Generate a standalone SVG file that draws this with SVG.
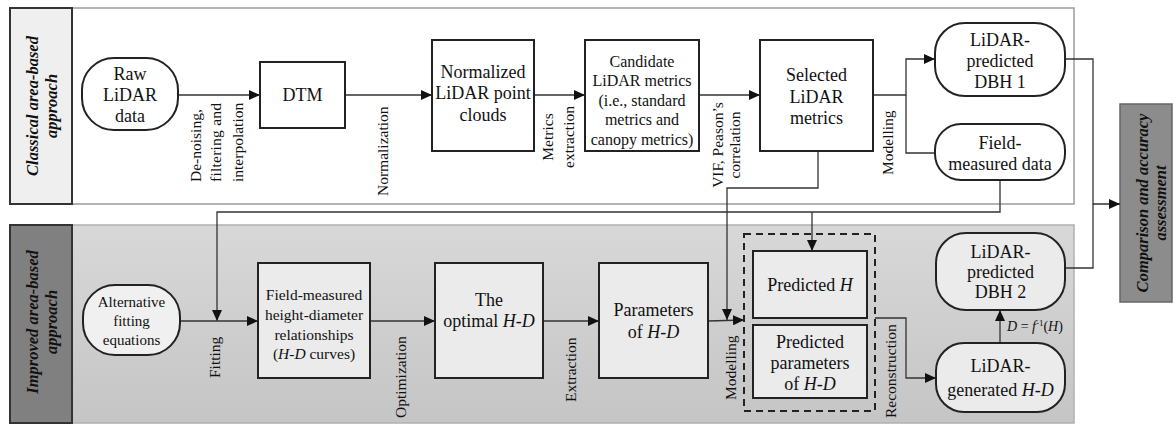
<svg xmlns="http://www.w3.org/2000/svg" width="1173" height="425" viewBox="0 0 1173 425">
<defs>
<linearGradient id="panelGrad" x1="0" y1="0" x2="0" y2="1">
<stop offset="0" stop-color="#d8d8d8"/>
<stop offset="1" stop-color="#c5c5c5"/>
</linearGradient>
<marker id="arr" markerUnits="userSpaceOnUse" markerWidth="11" markerHeight="10" refX="11" refY="5" orient="auto">
<path d="M0,0 L11,5 L0,10 z" fill="#111"/>
</marker>
</defs>
<style>
text{font-family:"Liberation Serif","Times New Roman",serif;fill:#111;}
.t18{font-size:18px;text-anchor:middle;}
.t16{font-size:16px;text-anchor:middle;}
.t15{font-size:15.5px;text-anchor:middle;}
.lab{font-size:15.5px;}
.lbl{font-size:16.5px;font-weight:bold;font-style:italic;text-anchor:middle;}
.it{font-style:italic;}
.box{fill:#fff;stroke:#222;stroke-width:2;}
.boxg{fill:#ebebeb;stroke:#222;stroke-width:2;}
.conn{fill:none;stroke:#333;stroke-width:1.3;}
</style>

<g id="panel-classical">
<rect x="10" y="8" width="1064" height="196" fill="#fff" stroke="#9a9a9a" stroke-width="1.5"/>
<rect x="10" y="8" width="62" height="196" fill="#efefef" stroke="#333" stroke-width="2"/>
<text class="lbl" transform="translate(38,106) rotate(-90)">Classical area-based</text>
<text class="lbl" transform="translate(57,106) rotate(-90)">approach</text>
</g>

<g id="panel-improved">
<rect x="10" y="225" width="1064" height="198" fill="url(#panelGrad)" stroke="#b0b0b0" stroke-width="1.5"/>
<rect x="10" y="225" width="62" height="198" fill="#808080" stroke="#333" stroke-width="2"/>
<text class="lbl" transform="translate(38,322) rotate(-90)">Improved area-based</text>
<text class="lbl" transform="translate(57,322) rotate(-90)">approach</text>
</g>

<g id="comparison">
<rect x="1120" y="104" width="52" height="198" fill="#8c8c8c" stroke="#666" stroke-width="1.5"/>
<text class="lbl" transform="translate(1148,203) rotate(-90)">Comparison and accuracy</text>
<text class="lbl" transform="translate(1166,203) rotate(-90)">assessment</text>
</g>

<g id="connectors">
<line class="conn" x1="178" y1="95" x2="260" y2="95" marker-end="url(#arr)"/>
<line class="conn" x1="345" y1="95" x2="432" y2="95" marker-end="url(#arr)"/>
<line class="conn" x1="534" y1="95" x2="585" y2="95" marker-end="url(#arr)"/>
<line class="conn" x1="699" y1="95" x2="760" y2="95" marker-end="url(#arr)"/>
<polyline class="conn" points="873,95 906,95 906,59 935,59" marker-end="url(#arr)"/>
<polyline class="conn" points="906,95 906,153 935,153"/>
<polyline class="conn" points="1065,59 1093,59 1093,204 1120,204" marker-end="url(#arr)"/>
<polyline class="conn" points="1065,268 1093,268 1093,204"/>
<polyline class="conn" points="818,151 818,188 727,188 727,320" marker-end="url(#arr)"/>
<polyline class="conn" points="1000,180 1000,212 217,212 217,321" marker-end="url(#arr)"/>
<line class="conn" x1="812" y1="212" x2="812" y2="251" marker-end="url(#arr)"/>
<line class="conn" x1="180" y1="321" x2="258" y2="321" marker-end="url(#arr)"/>
<line class="conn" x1="370" y1="321" x2="435" y2="321" marker-end="url(#arr)"/>
<line class="conn" x1="543" y1="321" x2="599" y2="321" marker-end="url(#arr)"/>
<line class="conn" x1="708" y1="321" x2="744" y2="320" marker-end="url(#arr)"/>
<polyline class="conn" points="875,318 906,318 906,378 936,378" marker-end="url(#arr)"/>
<line class="conn" x1="1000" y1="343" x2="1000" y2="310" marker-end="url(#arr)"/>
</g>

<g id="edge-labels">
<text class="lab" transform="translate(201,182) rotate(-90)">De-noising,</text>
<text class="lab" transform="translate(221,182) rotate(-90)" textLength="79" lengthAdjust="spacing">filtering and</text>
<text class="lab" transform="translate(243,182) rotate(-90)">interpolation</text>
<text class="lab" transform="translate(388,196) rotate(-90)">Normalization</text>
<text class="lab" text-anchor="middle" transform="translate(553,137) rotate(-90)">Metrics</text>
<text class="lab" text-anchor="middle" transform="translate(574,137) rotate(-90)">extraction</text>
<text class="lab" text-anchor="middle" transform="translate(723,145) rotate(-90)">VIF, Peason’s</text>
<text class="lab" text-anchor="middle" transform="translate(740,145) rotate(-90)">correlation</text>
<text class="lab" transform="translate(893,175) rotate(-90)">Modelling</text>
<text class="lab" transform="translate(220,378) rotate(-90)">Fitting</text>
<text class="lab" transform="translate(406,418) rotate(-90)">Optimization</text>
<text class="lab" transform="translate(576,402) rotate(-90)">Extraction</text>
<text class="lab" transform="translate(736,400) rotate(-90)">Modelling</text>
<text class="lab" transform="translate(896,418) rotate(-90)">Reconstruction</text>
<text x="1007" y="331" style="font-size:14px;"><tspan class="it">D</tspan> = <tspan class="it">f</tspan><tspan dy="-5" style="font-size:9px;">-1</tspan><tspan dy="5">(</tspan><tspan class="it">H</tspan>)</text>
</g>

<g id="raw-lidar">
<rect x="82" y="58" width="96" height="72" rx="32" ry="32" class="box"/>
<text class="t18" x="130" y="80">Raw</text>
<text class="t18" x="130" y="101">LiDAR</text>
<text class="t18" x="130" y="122">data</text>
</g>

<g id="dtm">
<rect x="260" y="62" width="85" height="66" class="box"/>
<text class="t18" x="302.5" y="101">DTM</text>
</g>

<g id="normalized">
<rect x="432" y="40" width="102" height="111" class="box"/>
<text class="t18" x="483" y="78">Normalized</text>
<text class="t18" x="483" y="99">LiDAR point</text>
<text class="t18" x="483" y="121">clouds</text>
</g>

<g id="candidate">
<rect x="585" y="40" width="114" height="111" class="box"/>
<text class="t16" x="642" y="66.5">Candidate</text>
<text class="t16" x="642" y="86">LiDAR metrics</text>
<text class="t16" x="642" y="105.5">(i.e., standard</text>
<text class="t16" x="642" y="125">metrics and</text>
<text class="t16" x="642" y="144.5">canopy metrics)</text>
</g>

<g id="selected">
<rect x="760" y="40" width="113" height="111" class="box"/>
<text class="t18" x="816.5" y="81">Selected</text>
<text class="t18" x="816.5" y="103">LiDAR</text>
<text class="t18" x="816.5" y="124">metrics</text>
</g>

<g id="dbh1">
<rect x="935" y="23" width="130" height="73" rx="30" ry="30" class="box"/>
<text class="t18" x="1000" y="46">LiDAR-</text>
<text class="t18" x="1000" y="67">predicted</text>
<text class="t18" x="1000" y="88">DBH 1</text>
</g>

<g id="field-data">
<rect x="935" y="124" width="130" height="56" rx="26" ry="26" class="box"/>
<text class="t18" x="1000" y="149">Field-</text>
<text class="t18" x="1000" y="170">measured data</text>
</g>

<g id="alternative">
<rect x="83" y="285" width="97" height="70" rx="32" ry="32" class="boxg" style="fill:#f0f0f0"/>
<text class="t15" style="font-size:15px" x="131.5" y="307">Alternative</text>
<text class="t15" style="font-size:15px" x="131.5" y="326">fitting</text>
<text class="t15" style="font-size:15px" x="131.5" y="345">equations</text>
</g>

<g id="field-hd">
<rect x="258" y="263" width="112" height="115" class="boxg"/>
<text class="t15" x="314" y="300">Field-measured</text>
<text class="t15" x="314" y="320">height-diameter</text>
<text class="t15" x="314" y="340">relationships</text>
<text class="t15" x="314" y="359">(<tspan class="it">H-D</tspan> curves)</text>
</g>

<g id="optimal">
<rect x="435" y="263" width="108" height="115" class="boxg"/>
<text class="t18" x="489" y="306">The</text>
<text class="t18" x="489" y="327">optimal <tspan class="it">H-D</tspan></text>
</g>

<g id="parameters">
<rect x="599" y="263" width="109" height="115" class="boxg"/>
<text class="t18" x="653.5" y="316">Parameters</text>
<text class="t18" x="653.5" y="338">of <tspan class="it">H-D</tspan></text>
</g>

<g id="prediction-group">
<rect x="744" y="234" width="131" height="177" fill="none" stroke="#222" stroke-width="2" stroke-dasharray="7,5"/>
</g>

<g id="predicted-h">
<rect x="753" y="251" width="114" height="67" class="boxg"/>
<text class="t18" x="810" y="291">Predicted <tspan class="it">H</tspan></text>
</g>

<g id="predicted-params">
<rect x="753" y="325" width="114" height="73" class="boxg"/>
<text class="t18" x="810" y="348">Predicted</text>
<text class="t18" x="810" y="369">parameters</text>
<text class="t18" x="810" y="390">of <tspan class="it">H-D</tspan></text>
</g>

<g id="dbh2">
<rect x="936" y="233" width="129" height="77" rx="30" ry="30" class="boxg"/>
<text class="t18" x="1000.5" y="258">LiDAR-</text>
<text class="t18" x="1000.5" y="278">predicted</text>
<text class="t18" x="1000.5" y="298">DBH 2</text>
</g>

<g id="lidar-generated">
<rect x="936" y="343" width="129" height="69" rx="28" ry="28" class="boxg"/>
<text class="t18" x="1000.5" y="372">LiDAR-</text>
<text class="t18" x="1000.5" y="396">generated  <tspan class="it">H-D</tspan></text>
</g>
</svg>
